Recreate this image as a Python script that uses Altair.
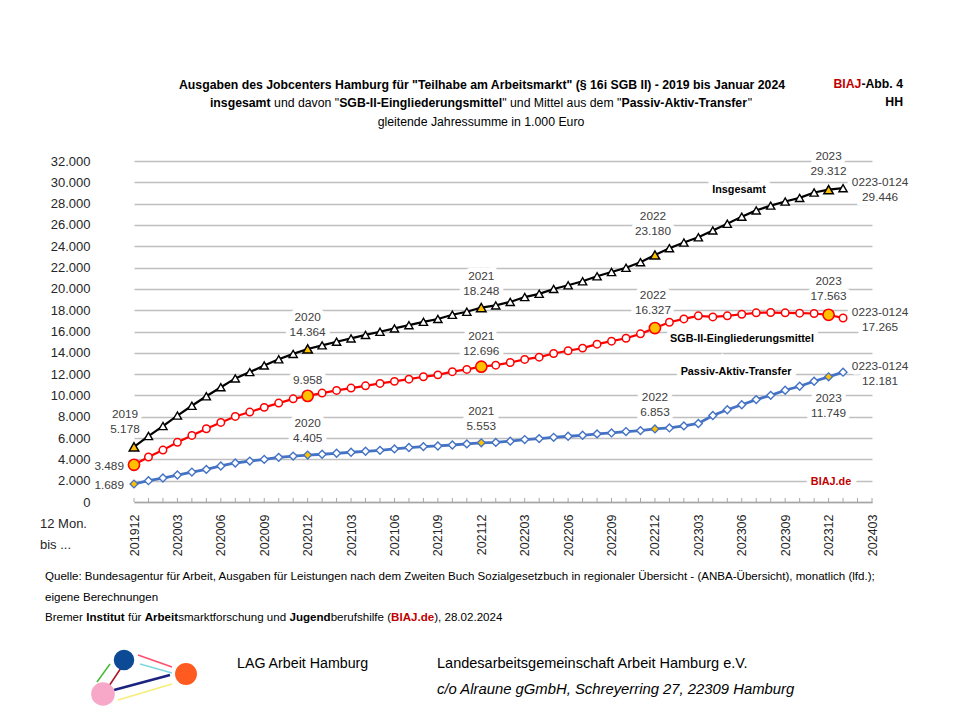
import json
import altair as alt
import pandas as pd

# ---------------- data (gleitende Jahressumme in 1.000 Euro) ----------------
months = [f"{2019 + (11 + k) // 12}{(11 + k) % 12 + 1:02d}" for k in range(50)]  # 201912 .. 202401
tick_labels = ["201912", "202003", "202006", "202009", "202012", "202103", "202106",
               "202109", "202112", "202203", "202206", "202209", "202212", "202303",
               "202306", "202309", "202312", "202403"]

insgesamt = [5178, 6190, 7125, 8110, 9030, 9920, 10770, 11600, 12190, 12810, 13390, 13900,
             14364, 14700, 15040, 15350, 15680, 15975, 16290, 16600, 16910, 17175, 17570, 17850,
             18248, 18450, 18775, 19230, 19535, 19990, 20335, 20710, 21180, 21580, 21975, 22505,
             23180, 23815, 24345, 24840, 25480, 26110, 26780, 27365, 27815, 28195, 28540, 29040,
             29312, 29446]
sgb = [3489, 4220, 4870, 5600, 6250, 6870, 7470, 8030, 8440, 8880, 9280, 9680,
       9958, 10220, 10470, 10690, 10900, 11130, 11320, 11530, 11750, 11930, 12230, 12440,
       12696, 12840, 13090, 13380, 13590, 13940, 14190, 14440, 14810, 15090, 15370, 15780,
       16327, 16870, 17180, 17470, 17370, 17470, 17620, 17750, 17780, 17750, 17720, 17690,
       17563, 17265]
pat = [1689, 2000, 2250, 2530, 2810, 3060, 3380, 3660, 3840, 4000, 4190, 4310,
       4405, 4480, 4570, 4670, 4760, 4850, 4980, 5110, 5200, 5260, 5350, 5450,
       5553, 5590, 5710, 5860, 5950, 6070, 6170, 6260, 6390, 6480, 6610, 6700,
       6853, 6950, 7140, 7370, 8120, 8660, 9130, 9610, 10010, 10490, 10860, 11330,
       11749, 12181]
highlight = [0, 12, 24, 36, 48]

# ---------------- layout ----------------
W, H = 738, 341
X0, Y0 = 134, 161          # page position of the plot origin
FONT = "Liberation Sans"
GREY_TXT = "#404040"
RED_TXT = "#c00000"

# Arial-compatible advance widths (1/1000 em) to place mixed bold/normal segments
WR, WB = {}, {}
for chars, w in [("'", 191), ("ijl", 222), (" !,./:;Ift", 278), ("-()r", 333), ('"', 355),
                 ("cksvxyzJ", 500), ("+", 584), ("FTZ", 611), ("ABEKPSVXY&", 667),
                 ("CDHNRUwÜ", 722), ("GOQ", 778), ("mM", 833), ("%", 889), ("W", 944)]:
    for c in chars:
        WR[c] = w
for chars, w in [("'", 238), (" ,./Iijl", 278), ("-():;!ft", 333), ("r", 389), ('"', 474),
                 ("z", 500), ("aceksvxyJ", 556), ("bdghnopquFTZLü", 611), ("EPSVXY", 667),
                 ("ABCDHKNRUÜ", 722), ("GOQw", 778), ("M", 833), ("m", 889), ("W", 944)]:
    for c in chars:
        WB[c] = w


def em(s, bold=False):
    t = WB if bold else WR
    return sum(t.get(c, 556) for c in s) / 1000.0


def label(text, x, y, size, bold=False, color="#000000", align="left", italic=False, halo=False):
    d = pd.DataFrame({"t": [text]})
    kw = dict(align=align, baseline="middle", font=FONT, fontSize=size,
              fontWeight="bold" if bold else "normal",
              fontStyle="italic" if italic else "normal")
    enc = dict(x=alt.value(x - X0), y=alt.value(y - Y0), text="t:N")
    out = []
    if halo:
        out.append(alt.Chart(d).mark_text(color="white", stroke="white", strokeWidth=9, **kw).encode(**enc))
    out.append(alt.Chart(d).mark_text(color=color, **kw).encode(**enc))
    return out


def segments(parts, x_start, y, size):
    out = []
    x = x_start
    sp = em(" ", False) * size
    for text, bold, color in parts:
        lead = len(text) - len(text.lstrip(" "))
        out += label(text.strip(" "), x + lead * sp, y, size, bold, color, "left")
        x += em(text, bold) * size
    return out


def width(parts, size):
    return sum(em(t, b) * size for t, b, _ in parts)


def fmt(v):
    return f"{v:,}".replace(",", ".")


# ---------------- scales / axes ----------------
xlabel_expr = json.dumps(tick_labels) + "[round(datum.value / 3)]"
X = alt.X("idx:Q",
          scale=alt.Scale(domain=[0, 51], nice=False, zero=False),
          axis=alt.Axis(values=list(range(0, 52, 3)), labelExpr=xlabel_expr, title=None,
                        grid=False, ticks=False, tickSize=0, domain=True, domainColor="#a6a6a6",
                        domainWidth=1.5, labelAngle=270, labelPadding=12, labelFont=FONT,
                        labelFontSize=12.5, labelColor="#262626", labelFlush=False,
                        labelOverlap=False, labelBound=False))
Y = alt.Y("v:Q",
          scale=alt.Scale(domain=[0, 32000], nice=False, zero=True),
          axis=alt.Axis(values=list(range(0, 32001, 2000)),
                        labelExpr="replace(format(datum.value, ','), ',', '.')",
                        title=None, grid=True, gridColor="#bfbfbf", gridWidth=1.5,
                        domain=False, ticks=False, tickSize=0, labelPadding=44, labelFont=FONT,
                        labelFontSize=13, labelColor="#262626", labelFlush=False))


def series_df(vals):
    return pd.DataFrame({"idx": list(range(len(vals))), "m": months, "v": vals})


df_ins, df_sgb, df_pat = series_df(insgesamt), series_df(sgb), series_df(pat)

layers = []

# month ticks (pointing up from the axis)
ticks_df = pd.DataFrame({"idx": list(range(52))})
layers.append(alt.Chart(ticks_df).mark_rule(color="#a6a6a6", strokeWidth=1).encode(
    x=X, y=alt.value(H - 4), y2=alt.value(H)))

# ---------------- annotations (value labels) ----------------
ann = [
    (insgesamt, 0, f"{months[0][:4]}\n{fmt(insgesamt[0])}", -9, -38, "center"),
    (insgesamt, 12, f"{months[12][:4]}\n{fmt(insgesamt[12])}", 0, -37, "center"),
    (insgesamt, 24, f"{months[24][:4]}\n{fmt(insgesamt[24])}", 0, -37, "center"),
    (insgesamt, 36, f"{months[36][:4]}\n{fmt(insgesamt[36])}", -2, -44, "center"),
    (insgesamt, 48, f"{months[48][:4]}\n{fmt(insgesamt[48])}", 0, -39, "center"),
    (insgesamt, 49, f"0223-0124\n{fmt(insgesamt[49])}", 37, -11, "center"),
    (sgb, 0, fmt(sgb[0]), -10, -4, "right"),
    (sgb, 12, fmt(sgb[12]), 0, -21, "center"),
    (sgb, 24, f"{months[24][:4]}\n{fmt(sgb[24])}", 0, -36, "center"),
    (sgb, 36, f"{months[36][:4]}\n{fmt(sgb[36])}", -2, -38, "center"),
    (sgb, 48, f"{months[48][:4]}\n{fmt(sgb[48])}", 0, -39, "center"),
    (sgb, 49, f"0223-0124\n{fmt(sgb[49])}", 37, -11, "center"),
    (pat, 0, fmt(pat[0]), -10, -4, "right"),
    (pat, 12, f"{months[12][:4]}\n{fmt(pat[12])}", 0, -37, "center"),
    (pat, 24, f"{months[24][:4]}\n{fmt(pat[24])}", 0, -37, "center"),
    (pat, 36, f"{months[36][:4]}\n{fmt(pat[36])}", 0, -37, "center"),
    (pat, 48, f"{months[48][:4]}\n{fmt(pat[48])}", 0, 16, "center"),
    (pat, 49, f"0223-0124\n{fmt(pat[49])}", 37, -11, "center"),
]
ann_text = []
for vals, i, text, dx, dy, align in ann:
    d = pd.DataFrame({"idx": [i], "v": [vals[i]], "t": [text]})
    kw = dict(align=align, baseline="top", dx=dx, dy=dy, lineBreak="\n", lineHeight=15,
              font=FONT, fontSize=11.8)
    layers.append(alt.Chart(d).mark_text(color="white", stroke="white", strokeWidth=9, **kw)
                  .encode(x=X, y=Y, text="t:N"))
    ann_text.append(alt.Chart(d).mark_text(color=GREY_TXT, **kw).encode(x=X, y=Y, text="t:N"))

# series names inside the plot
s_size = 144 / em("SGB-II-Eingliederungsmittel", True)
series_names = []
series_names += label("Insgesamt", 739, 190, s_size, True, "#000000", "center", halo=True)
series_names += label("SGB-II-Eingliederungsmittel", 742, 339, s_size, True, "#000000", "center", halo=True)
series_names += label("Passiv-Aktiv-Transfer", 736, 372, s_size, True, "#000000", "center", halo=True)
series_names += label("BIAJ.de", 831, 482, s_size, True, RED_TXT, "center", halo=True)
# halos first, texts later
layers += [l for k, l in enumerate(series_names) if k % 2 == 0]

# ---------------- lines & markers ----------------
layers.append(alt.Chart(df_pat).mark_line(color="#4472c4", strokeWidth=2.8).encode(x=X, y=Y))
layers.append(alt.Chart(df_sgb).mark_line(color="#ff0000", strokeWidth=2.2).encode(x=X, y=Y))
layers.append(alt.Chart(df_ins).mark_line(color="#000000", strokeWidth=2.2).encode(x=X, y=Y))


def pts(df, shape, fill, stroke, size, sw):
    return alt.Chart(df).mark_point(shape=shape, filled=True, fill=fill, stroke=stroke, size=size,
                                    strokeWidth=sw, opacity=1).encode(x=X, y=Y)


hl = lambda df: df[df["idx"].isin(highlight)]
nh = lambda df: df[~df["idx"].isin(highlight)]
layers.append(pts(nh(df_pat), "diamond", "white", "#4472c4", 62, 1.4))
layers.append(pts(hl(df_pat), "diamond", "#ffc000", "#4472c4", 62, 1.3))
layers.append(pts(nh(df_sgb), "circle", "white", "#ff0000", 56, 1.5))
layers.append(pts(hl(df_sgb), "circle", "#ffc000", "#ff0000", 125, 1.6))
layers.append(pts(nh(df_ins), "triangle-up", "white", "#000000", 68, 1.4))
layers.append(pts(hl(df_ins), "triangle-up", "#ffc000", "#000000", 90, 1.5))

layers += ann_text
layers += [l for k, l in enumerate(series_names) if k % 2 == 1]

# ---------------- titles ----------------
t1 = 'Ausgaben des Jobcenters Hamburg für "Teilhabe am Arbeitsmarkt" (§ 16i SGB II) - 2019 bis Januar 2024'
t_size = 608 / em(t1, True)
layers += label(t1, 482, 85, t_size, True, "#000000", "center")
line2 = [("insgesamt", True, "#000"), (' und davon "', False, "#000"),
         ("SGB-II-Eingliederungsmittel", True, "#000"), ('" und Mittel aus dem "', False, "#000"),
         ("Passiv-Aktiv-Transfer", True, "#000"), ('"', False, "#000")]
layers += segments(line2, 481 - width(line2, t_size) / 2, 103, t_size)
layers += label("gleitende  Jahressumme in 1.000 Euro", 481, 122, t_size, False, "#000000", "center")

abb = [("BIAJ", True, RED_TXT), ("-Abb. 4", True, "#000")]
layers += segments(abb, 903 - width(abb, t_size), 84, t_size)
layers += label("HH", 903, 102, t_size, True, "#000000", "right")

# x-axis caption
layers += label("12 Mon.", 40, 524, 13, False, "#262626", "left")
layers += label("bis ...", 40, 545, 13, False, "#262626", "left")

# ---------------- footer ----------------
f1 = ("Quelle: Bundesagentur für Arbeit, Ausgaben für Leistungen nach dem Zweiten Buch "
      "Sozialgesetzbuch in regionaler Übersicht - (ANBA-Übersicht), monatlich (lfd.);")
f_size = 832 / em(f1, False)
layers += label(f1, 45, 577, f_size)
layers += label("eigene Berechnungen", 45, 598, f_size)
f3 = [("Bremer ", False, "#000"), ("Institut", True, "#000"), (" für ", False, "#000"),
      ("Arbeit", True, "#000"), ("smarktforschung und ", False, "#000"), ("Jugend", True, "#000"),
      ("berufshilfe (", False, "#000"), ("BIAJ.de", True, RED_TXT), ("), 28.02.2024", False, "#000")]
layers += segments(f3, 45, 618, f_size)

g1 = "LAG Arbeit  Hamburg"
layers += label(g1, 237, 664, 136 / em(g1), False, "#000000")
g2 = "Landesarbeitsgemeinschaft Arbeit  Hamburg e.V."
layers += label(g2, 437, 664, 317 / em(g2), False, "#000000")
g3 = "c/o Alraune gGmbH, Schreyerring 27, 22309 Hamburg"
layers += label(g3, 437, 690, 358 / em(g3), False, "#000000", italic=True)

# ---------------- logo ----------------
one = pd.DataFrame({"a": [0]})
for (x1, y1, x2, y2, col, sw) in [(138, 655, 172, 667, "#ff4d6d", 1.5), (172, 673, 140, 664, "#7fd8e0", 1.5),
                                  (97, 682, 110, 664, "#44bb33", 1.5), (121, 668, 109, 686, "#aa1122", 1.5),
                                  (114, 690, 170, 675, "#1a237e", 2.5), (172, 684, 118, 700, "#f5ee7a", 1.8)]:
    layers.append(alt.Chart(one).mark_rule(color=col, strokeWidth=sw).encode(
        x=alt.value(x1 - X0), y=alt.value(y1 - Y0), x2=alt.value(x2 - X0), y2=alt.value(y2 - Y0)))
for (cx, cy, col, sz) in [(124, 660, "#0d4a96", 420), (186, 674, "#ff5a1f", 480), (103, 694, "#f7a8c8", 560)]:
    layers.append(alt.Chart(one).mark_circle(color=col, size=sz, opacity=1).encode(
        x=alt.value(cx - X0), y=alt.value(cy - Y0)))

chart = alt.layer(*layers).properties(
    width=W, height=H,
    padding={"left": 126, "top": 153, "right": 76, "bottom": 206},
    autosize=alt.AutoSizeParams(type="none"),
    background="white",
).configure_view(stroke=None)

chart.save("out.html", embed_options={"renderer": "svg", "actions": False})
